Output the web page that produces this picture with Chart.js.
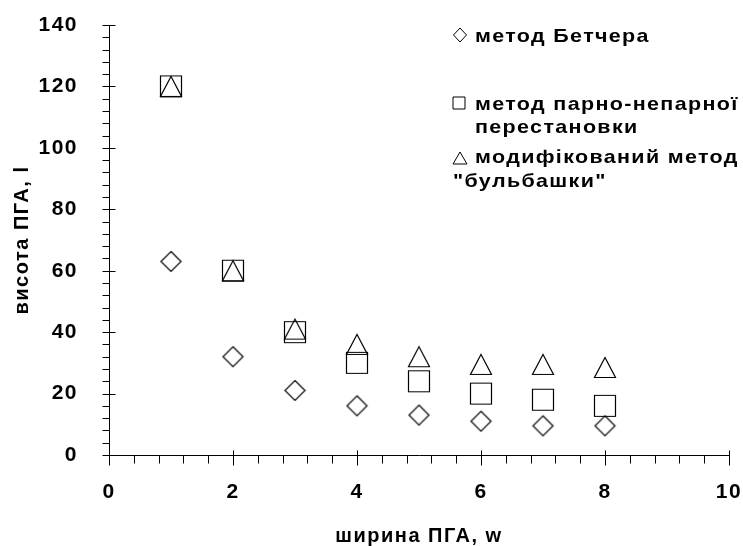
<!DOCTYPE html>
<html>
<head>
<meta charset="utf-8">
<script src="https://cdn.jsdelivr.net/npm/chart.js@4"></script>
<style>
  body { margin: 0; background: #fff; }
  canvas { display: block; }
</style>
</head>
<body>
<canvas id="chart" width="743" height="546"></canvas>
<script>
// data
const widths = [1, 2, 3, 4, 5, 6, 7, 8];
const betcher = [63, 32, 21, 16, 13, 11, 9.5, 9.5];
const oddEven = [120, 60, 40, 30, 24, 20, 18, 16];
const bubble = [120, 60, 41, 36, 32, 29.5, 29.5, 28.5];
const seriesNames = [
    ['метод Бетчера'],
    ['метод парно-непарної', 'перестановки'],
    ['модифікований метод', '"бульбашки"']
];
const xTitle = 'ширина ПГА, w';
const yTitle = 'висота ПГА, l';
const xRange = [0, 10], xStep = 2, xMinor = 0.4;
const yRange = [0, 140], yStep = 20, yMinor = 4;

const FONT = '"Liberation Sans", Arial, sans-serif';

function drawShape(g, shape, cx, cy, w, h) {
    g.beginPath();
    if (shape === 'diamond') {
        g.moveTo(cx, cy - h / 2);
        g.lineTo(cx + w / 2, cy);
        g.lineTo(cx, cy + h / 2);
        g.lineTo(cx - w / 2, cy);
        g.closePath();
    } else if (shape === 'square') {
        g.rect(cx - w / 2, cy - h / 2, w, h);
    } else {
        g.moveTo(cx, cy - h / 2);
        g.lineTo(cx + w / 2, cy + h / 2);
        g.lineTo(cx - w / 2, cy + h / 2);
        g.closePath();
    }
    g.stroke();
}

function makeMarker(shape, w, h) {
    const c = document.createElement('canvas');
    c.width = w + 3;
    c.height = h + 3;
    const g = c.getContext('2d');
    g.strokeStyle = '#000';
    g.lineWidth = 1.2;
    drawShape(g, shape, c.width / 2, c.height / 2, w, h);
    return c;
}

const shapes = ['diamond', 'square', 'triangle'];
const markers = [makeMarker('diamond', 20, 20), makeMarker('square', 21, 21), makeMarker('triangle', 21, 20)];

function toPoints(values) {
    return widths.map((w, i) => ({ x: w, y: values[i] }));
}

// the old picture has widely spaced text
const spacingPlugin = {
    id: 'spacing',
    beforeLayout(chart) { chart.ctx.letterSpacing = '1.5px'; },
    beforeDraw(chart) { chart.ctx.letterSpacing = '1.5px'; }
};

// major and minor tick marks, placed with the chart's scales
const ticksPlugin = {
    id: 'tickMarks',
    afterDraw(chart) {
        const ctx = chart.ctx;
        const xs = chart.scales.x, ys = chart.scales.y;
        const left = Math.round(ys.right) + 0.5;
        const bottom = Math.round(xs.top) + 0.5;
        ctx.save();
        ctx.strokeStyle = '#000';
        ctx.lineWidth = 1;
        ctx.beginPath();
        const ny = Math.round((yRange[1] - yRange[0]) / yMinor);
        for (let i = 0; i <= ny; i++) {
            const v = yRange[0] + i * yMinor;
            const py = Math.round(ys.getPixelForValue(v)) + 0.5;
            const major = Math.abs(v / yStep - Math.round(v / yStep)) < 1e-6;
            ctx.moveTo(left - 7, py);
            ctx.lineTo(major ? left + 6 : left, py);
        }
        const nx = Math.round((xRange[1] - xRange[0]) / xMinor);
        for (let i = 0; i <= nx; i++) {
            const v = xRange[0] + i * xMinor;
            const px = Math.round(xs.getPixelForValue(v)) + 0.5;
            const major = Math.abs(v / xStep - Math.round(v / xStep)) < 1e-6;
            ctx.moveTo(px, major ? bottom - 5 : bottom);
            ctx.lineTo(px, bottom + (major ? 10 : 8));
        }
        ctx.stroke();
        ctx.restore();
    }
};

// legend block in the top right corner
const legendPlugin = {
    id: 'sideLegend',
    afterDraw(chart) {
        const ctx = chart.ctx;
        const a = chart.chartArea;
        const x0 = a.right - 276;
        const y0 = a.top;
        const rows = [
            { mark: [7, 10], lines: [[22, 17]] },
            { mark: [6, 78], lines: [[22, 85], [22, 108]] },
            { mark: [7, 133], lines: [[22, 138], [0, 162]] }
        ];
        const sizes = [[13, 14], [12, 12], [14, 12]];
        ctx.save();
        ctx.strokeStyle = '#000';
        ctx.lineWidth = 1;
        ctx.fillStyle = '#000';
        ctx.font = 'bold 19px ' + FONT;
        ctx.letterSpacing = '1.2px';
        ctx.textAlign = 'left';
        ctx.textBaseline = 'alphabetic';
        rows.forEach((r, i) => {
            drawShape(ctx, shapes[i], x0 + r.mark[0], y0 + r.mark[1], sizes[i][0], sizes[i][1]);
            seriesNames[i].forEach((t, j) => {
                ctx.save();
                ctx.translate(x0 + r.lines[j][0], y0 + r.lines[j][1]);
                ctx.scale(1.13, 1);
                ctx.fillText(t, 0, 0);
                ctx.restore();
            });
        });
        ctx.restore();
    }
};

function noPad(scale) {
    scale.paddingTop = 0;
    scale.paddingBottom = 0;
    scale.paddingLeft = 0;
    scale.paddingRight = 0;
}

const ctx = document.getElementById('chart').getContext('2d');
const chart = new Chart(ctx, {
    type: 'scatter',
    data: {
        datasets: [betcher, oddEven, bubble].map((vals, i) => ({
            label: seriesNames[i].join(' '),
            data: toPoints(vals),
            pointStyle: markers[i],
            pointRadius: 10,
            pointHoverRadius: 10,
            showLine: false
        }))
    },
    options: {
        responsive: false,
        animation: false,
        devicePixelRatio: 1,
        layout: { padding: { top: 25, right: 14, bottom: 0, left: 0 } },
        plugins: {
            legend: { display: false },
            tooltip: { enabled: false }
        },
        scales: {
            x: {
                type: 'linear',
                min: xRange[0],
                max: xRange[1],
                grid: { display: false },
                border: { display: true, color: '#000', width: 1 },
                ticks: {
                    stepSize: xStep,
                    padding: 17,
                    color: '#000',
                    font: { family: FONT, size: 21, weight: 'bold' }
                },
                title: {
                    display: true,
                    text: xTitle,
                    color: '#000',
                    font: { family: FONT, size: 20, weight: 'bold', lineHeight: 1 },
                    padding: { top: 0, bottom: 0 }
                },
                afterFit(scale) { scale.height = 91; noPad(scale); }
            },
            y: {
                type: 'linear',
                min: yRange[0],
                max: yRange[1],
                grid: { display: false },
                border: { display: true, color: '#000', width: 1 },
                ticks: {
                    stepSize: yStep,
                    padding: 23,
                    color: '#000',
                    font: { family: FONT, size: 21, weight: 'bold' }
                },
                title: {
                    display: true,
                    text: yTitle,
                    color: '#000',
                    font: { family: FONT, size: 20, weight: 'bold', lineHeight: 1 },
                    padding: { top: 12, bottom: 0 }
                },
                afterFit(scale) { scale.width = 109; noPad(scale); }
            }
        }
    },
    plugins: [spacingPlugin, ticksPlugin, legendPlugin]
});
</script>
</body>
</html>
